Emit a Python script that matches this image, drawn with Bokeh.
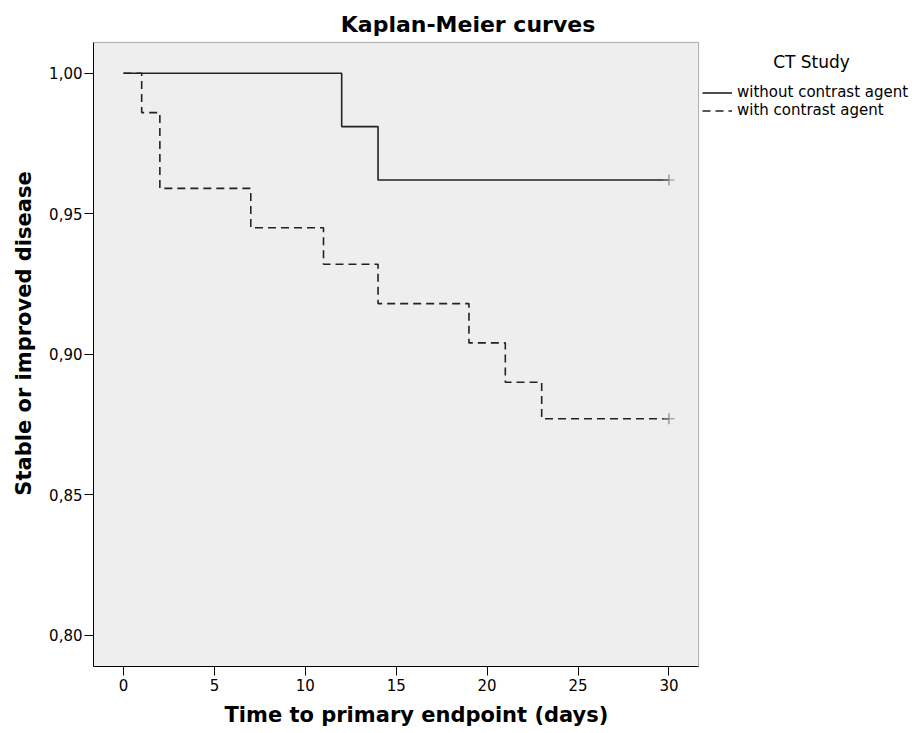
from bokeh.plotting import figure
from bokeh.models import (ColumnDataSource, FixedTicker, Label, Legend, LegendItem, Range1d,
                          BoxAnnotation, Title)
from bokeh.embed import file_html
from bokeh.resources import INLINE

# ---- data ----
group_names = ["without contrast agent", "with contrast agent"]
time_without = [0, 12, 14, 30]
surv_without = [1.000, 0.981, 0.962, 0.962]
time_with = [0, 1, 2, 7, 11, 14, 19, 21, 23, 30]
surv_with = [1.000, 0.986, 0.959, 0.945, 0.932, 0.918, 0.904, 0.890, 0.877, 0.877]
censor_time = [30, 30]
censor_surv = [0.962, 0.877]

x_ticks = [0, 5, 10, 15, 20, 25, 30]
y_ticks = [0.80, 0.85, 0.90, 0.95, 1.00]
y_tick_labels = ["0,80", "0,85", "0,90", "0,95", "1,00"]

title_text = "Kaplan-Meier curves"
x_label = "Time to primary endpoint (days)"
y_label = "Stable or improved disease"
legend_title = "CT Study"

FONT = "DejaVu Sans"

# plot-area limits (data units) and the full canvas ranges
X0, X1 = -1.65, 31.63
Y0, Y1 = 0.7888, 1.011

p = figure(width=915, height=733, output_backend="svg", toolbar_location=None,
           x_range=Range1d(X0, 43.56), y_range=Range1d(Y0, 1.0259),
           min_border_left=93, min_border_right=0, min_border_top=0, min_border_bottom=66)

p.background_fill_color = "white"
p.border_fill_color = "white"
p.outline_line_color = None
p.xgrid.visible = False
p.ygrid.visible = False

# grey plotting area with black frame
p.add_layout(BoxAnnotation(left=X0, right=X1, bottom=Y0, top=Y1, fill_color="#EEEEEE",
                           fill_alpha=1, line_color="black", line_width=1, level="underlay"))

src_wo = ColumnDataSource(dict(t=time_without, s=surv_without))
src_w = ColumnDataSource(dict(t=time_with, s=surv_with))

r1 = p.step("t", "s", source=src_wo, mode="after", line_color="#222222", line_width=1.6)
r2 = p.step("t", "s", source=src_w, mode="after", line_color="#222222", line_width=1.6,
            line_dash="8 5")
p.scatter(censor_time, censor_surv, marker="cross", size=11, line_color="#888888", line_width=1.2)

# axes
for ax in (p.xaxis[0], p.yaxis[0]):
    ax.axis_line_color = "black"
    ax.major_tick_line_color = "black"
    ax.major_tick_in = 0
    ax.major_tick_out = 9
    ax.minor_tick_line_color = None
    ax.major_label_text_font = FONT
    ax.major_label_text_font_size = "15px"
    ax.major_label_text_color = "black"
    ax.axis_label_text_font = FONT
    ax.axis_label_text_font_size = "21px"
    ax.axis_label_text_font_style = "bold"
    ax.axis_label_text_color = "black"

p.xaxis.ticker = FixedTicker(ticks=x_ticks)
p.yaxis.ticker = FixedTicker(ticks=y_ticks)
p.xaxis.bounds = (X0, X1)
p.yaxis.bounds = (Y0, Y1)
p.yaxis.major_label_overrides = {t: lab for t, lab in zip(y_ticks, y_tick_labels)}
p.yaxis.axis_label = y_label
p.xaxis.major_label_standoff = 3
p.yaxis.major_label_standoff = 2
p.yaxis.axis_label_standoff = 10

# x-axis title, centred under the grey plotting area
p.add_layout(Title(text=x_label, align="left", offset=131, standoff=14,
                   text_font=FONT, text_font_size="21px", text_font_style="bold",
                   text_color="black"), "below")

# chart title (centered on the whole chart)
p.add_layout(Label(x=374.5, y=642, x_units="screen", y_units="screen", text=title_text,
                   text_font=FONT, text_font_size="22px", text_font_style="bold",
                   text_align="center", text_baseline="middle", text_color="black"))

# legend
p.add_layout(Label(x=718, y=605, x_units="screen", y_units="screen", text=legend_title,
                   text_font=FONT, text_font_size="17px", text_align="center",
                   text_baseline="middle", text_color="black"))
legend = Legend(items=[LegendItem(label=group_names[0], renderers=[r1]),
                       LegendItem(label=group_names[1], renderers=[r2])],
                location=(609, 547), orientation="vertical")
legend.padding = 0
legend.margin = 0
legend.spacing = 0
legend.glyph_width = 30
legend.glyph_height = 17
legend.label_height = 17
legend.label_standoff = 5
legend.label_text_font = FONT
legend.label_text_font_size = "15px"
legend.label_text_color = "black"
legend.background_fill_alpha = 0
legend.border_line_alpha = 0
p.add_layout(legend, "center")

open("out.html", "w").write(file_html(p, INLINE))
